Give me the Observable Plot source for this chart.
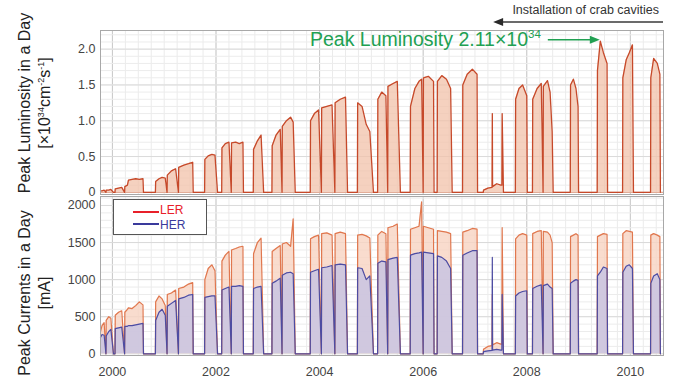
<!DOCTYPE html>
<html>
<head>
<meta charset="utf-8">
<script src="https://cdn.jsdelivr.net/npm/d3@7"></script>
<script src="https://cdn.jsdelivr.net/npm/@observablehq/plot@0.6"></script>
<style>
  html, body { margin: 0; padding: 0; background: #fff; }
  #wrap { position: relative; width: 674px; height: 385px; overflow: hidden; font-family: "Liberation Sans", Arial, sans-serif; }
  #wrap svg.plot { position: absolute; left: 0; }
  .ytitle { position: absolute; width: 220px; text-align: center; font-size: 16px; line-height: 20px; color: #222; transform: translate(-50%, -50%) rotate(-90deg); white-space: nowrap; }
  .ytitle sup { font-size: 9px; vertical-align: 6px; line-height: 0; }
  .note { position: absolute; white-space: nowrap; }
</style>
</head>
<body>
<div id="wrap"></div>
<script>
// ---- data (decimal year, peak luminosity [1e34], LER mA, HER mA) ----
const years = [
  1999.77,1999.80,1999.84,1999.875,1999.88,1999.93,1999.97,2000.02,
  2000.05,2000.055,2000.12,2000.18,2000.235,2000.24,2000.29,2000.31,2000.38,2000.45,2000.52,2000.59,2000.60,
  2000.83,2000.835,2000.90,2000.96,2001.02,2001.055,2001.06,2001.14,2001.22,2001.275,2001.28,2001.38,2001.47,2001.55,2001.56,
  2001.78,2001.785,2001.85,2001.92,2001.98,2002.03,
  2002.11,2002.115,2002.18,2002.25,2002.295,2002.30,2002.38,2002.45,2002.52,2002.53,
  2002.72,2002.725,2002.80,2002.87,2002.92,
  2003.08,2003.085,2003.16,2003.24,2003.275,2003.28,2003.36,2003.44,2003.49,2003.53,
  2003.82,2003.825,2003.90,2003.98,2004.035,2004.04,2004.14,2004.24,2004.295,2004.30,2004.40,2004.50,2004.54,
  2004.73,2004.735,2004.82,2004.90,2004.97,2005.04,
  2005.12,2005.125,2005.20,2005.28,2005.315,2005.32,2005.42,2005.50,2005.56,
  2005.75,2005.755,2005.84,2005.92,2005.97,2006.00,2006.005,2006.10,2006.20,2006.21,
  2006.27,2006.275,2006.36,2006.45,2006.53,2006.56,
  2006.76,2006.765,2006.85,2006.95,2007.04,2007.05,
  2007.16,2007.165,2007.25,2007.33,2007.335,2007.34,2007.42,2007.50,2007.52,2007.525,2007.55,
  2007.78,2007.785,2007.85,2007.92,2008.00,2008.01,
  2008.11,2008.115,2008.20,2008.28,2008.315,2008.32,2008.40,2008.45,2008.49,2008.51,
  2008.84,2008.845,2008.90,2008.95,2008.99,2009.00,
  2009.36,2009.365,2009.42,2009.48,2009.55,2009.56,
  2009.85,2009.855,2009.92,2009.98,2010.04,2010.06,
  2010.39,2010.395,2010.45,2010.52,2010.57,2010.58
];
const luminosity = [
  0.02,0.02,0.03,0,0.03,0.03,0.04,0,
  0,0.05,0.06,0.07,0,0.08,0.10,0.17,0.18,0.19,0.18,0.19,0,
  0,0.15,0.19,0.21,0.20,0,0.24,0.30,0.33,0,0.35,0.38,0.40,0.42,0,
  0,0.46,0.51,0.53,0.52,0,
  0,0.62,0.68,0.70,0,0.69,0.70,0.68,0.70,0,
  0,0.60,0.72,0.80,0,
  0,0.65,0.80,0.88,0,0.92,1.00,1.05,0.98,0,
  0,1.00,1.10,1.15,0,1.18,1.20,1.22,0,1.25,1.30,1.33,0,
  0,1.25,1.20,0.95,0.85,0,
  0,1.30,1.40,1.35,0,1.48,1.52,1.55,0,
  0,1.20,1.45,1.55,1.58,0,1.60,1.62,1.55,0,
  0,1.55,1.63,1.58,1.45,0,
  0,1.50,1.65,1.72,1.65,0,
  0,0.03,0.06,0.07,1.10,0.08,0.12,0.10,0.10,1.10,0,
  0,1.30,1.45,1.50,1.35,0,
  0,1.30,1.45,1.52,0,1.48,1.56,1.40,0.85,0,
  0,1.50,1.58,1.45,1.20,0,
  0,1.70,2.11,1.95,1.80,0,
  0,1.60,1.85,1.95,2.06,0,
  0,1.60,1.87,1.80,1.65,0
];
const lerCurrent = [
  300,380,420,0,450,500,480,0,
  0,520,560,580,0,560,600,620,610,650,700,660,0,
  0,700,780,740,650,0,800,820,860,0,880,900,940,960,0,
  0,1000,1150,1200,1120,0,
  0,1250,1330,1380,0,1400,1420,1440,1450,0,
  0,1350,1500,1560,0,
  0,1380,1420,1460,0,1480,1500,1450,1820,0,
  0,1550,1580,1600,0,1620,1630,1600,0,1620,1640,1620,0,
  0,1600,1610,1590,1560,0,
  0,1600,1650,1620,0,1700,1720,1750,0,
  0,1680,1700,1720,2050,0,1720,1700,1680,0,
  0,1660,1650,1640,1620,0,
  0,1640,1660,1690,1680,0,
  0,60,100,110,800,120,150,130,130,1700,0,
  0,1550,1600,1620,1600,0,
  0,1620,1650,1660,0,1650,1640,1600,1500,0,
  0,1580,1600,1620,1600,0,
  0,1580,1600,1620,1610,0,
  0,1620,1660,1650,1640,0,
  0,1600,1620,1600,1580,0
];
const herCurrent = [
  220,260,250,0,240,300,330,0,
  0,340,350,360,0,370,370,380,380,390,400,410,0,
  0,450,560,600,520,0,640,680,720,0,740,760,790,800,0,
  0,760,770,780,780,0,
  0,860,880,900,0,910,910,920,910,0,
  0,880,900,910,0,
  0,950,980,1020,0,1060,1090,1100,1080,0,
  0,1100,1120,1140,0,1160,1170,1190,0,1200,1210,1200,0,
  0,1160,1150,1000,1050,0,
  0,1220,1250,1240,0,1270,1290,1300,0,
  0,1330,1350,1360,1370,0,1370,1360,1350,0,
  0,1320,1300,1250,1150,0,
  0,1330,1360,1390,1390,0,
  0,30,40,45,1300,50,60,50,50,800,0,
  0,780,820,840,850,0,
  0,880,910,930,0,920,940,900,880,0,
  0,950,980,1000,990,0,
  0,1050,1100,1170,1150,0,
  0,1100,1180,1200,1150,0,
  0,950,1050,1080,1000,0
];
const yearTicks = [2000, 2002, 2004, 2006, 2008, 2010];
const lumTicks = [0, 0.5, 1.0, 1.5, 2.0];
const currentTicks = [0, 500, 1000, 1500, 2000];
const peakYear = 2009.42, peakValue = 2.11;
const crabStartYear = 2007.36;

(function draw() {
  const rows = years.map((t, i) => ({t, lum: luminosity[i], ler: lerCurrent[i], her: herCurrent[i]}));

  const xDomain = [1999.77, 2010.64];
  const font = {fontFamily: "'Liberation Sans', Arial, sans-serif", fontSize: "12.5px", color: "#444", background: "transparent", overflow: "visible"};
  const minorX = d3.range(2000, 2010.6, 0.25);
  const evenX = d3.range(2000, 2011, 2);

  const topPlot = Plot.plot({
    width: 674, height: 196,
    marginLeft: 100, marginRight: 11, marginTop: 30, marginBottom: 2,
    style: font,
    x: {domain: xDomain, axis: null},
    y: {domain: [-0.03, 2.26], ticks: lumTicks, tickFormat: d => d === 0 ? "0" : d.toFixed(1), tickSize: 0, tickPadding: 5, label: null},
    marks: [
      Plot.ruleX(minorX, {stroke: "#ebebeb"}),
      Plot.ruleX(evenX, {stroke: "#c9c9c9"}),
      Plot.ruleY(d3.range(0.1, 2.26, 0.1), {stroke: "#ececec"}),
      Plot.ruleY(lumTicks, {stroke: "#dadada"}),
      Plot.areaY(rows, {x: "t", y: "lum", fill: "#f2c1aa", fillOpacity: 0.75}),
      Plot.ruleY([0], {stroke: "#e3a48c"}),
      Plot.lineY(rows, {x: "t", y: "lum", stroke: "#c6492a", strokeWidth: 1.3}),
      Plot.frame({stroke: "#a8a8a8"})
    ]
  });
  topPlot.classList.add("plot");
  topPlot.style.top = "0px";

  const bottomPlot = Plot.plot({
    width: 674, height: 191,
    marginLeft: 100, marginRight: 11, marginTop: 2, marginBottom: 30,
    style: font,
    x: {domain: xDomain, ticks: yearTicks, tickFormat: d => String(d), tickSize: 0, tickPadding: 12, label: null},
    y: {domain: [-23, 2121], ticks: currentTicks, tickSize: 0, tickPadding: 5, label: null, tickFormat: d => String(d)},
    marks: [
      Plot.ruleX(minorX, {stroke: "#ebebeb"}),
      Plot.ruleX(evenX, {stroke: "#c9c9c9"}),
      Plot.ruleY(d3.range(100, 2121, 100), {stroke: "#ececec"}),
      Plot.ruleY(currentTicks, {stroke: "#dadada"}),
      Plot.areaY(rows, {x: "t", y: "ler", fill: "#f7d3c2", fillOpacity: 0.8}),
      Plot.areaY(rows, {x: "t", y: "her", fill: "#c6c3e4", fillOpacity: 0.8}),
      Plot.lineY(rows, {x: "t", y: "ler", stroke: "#e0774e", strokeWidth: 1.2}),
      Plot.lineY(rows, {x: "t", y: "her", stroke: "#4d4ca2", strokeWidth: 1.2}),
      Plot.frame({stroke: "#a8a8a8"})
    ]
  });
  bottomPlot.classList.add("plot");
  bottomPlot.style.top = "194px";

  const wrap = document.getElementById("wrap");
  wrap.appendChild(topPlot);
  wrap.appendChild(bottomPlot);

  function addTitle(html, cx, cy) {
    const d = document.createElement("div");
    d.className = "ytitle";
    d.innerHTML = html;
    d.style.left = cx + "px";
    d.style.top = cy + "px";
    wrap.appendChild(d);
  }
  addTitle("Peak Luminosity in a Day<br>[×10<sup>34</sup>cm<sup>-2</sup>s<sup>-1</sup>]", 35, 103);
  addTitle("Peak Currents in a Day<br>[mA]", 35, 293);

  const xs = topPlot.scale("x"), ys = topPlot.scale("y");
  const px = v => xs.apply(v), py = v => ys.apply(v);
  const frameRight = px(xDomain[1]);
  const frameTop = py(2.26);

  const ns = "http://www.w3.org/2000/svg";
  const ov = document.createElementNS(ns, "svg");
  ov.setAttribute("width", 674); ov.setAttribute("height", 385);
  ov.style.position = "absolute"; ov.style.left = "0"; ov.style.top = "0"; ov.style.pointerEvents = "none";
  function el(tag, attrs) { const e = document.createElementNS(ns, tag); for (const k in attrs) e.setAttribute(k, attrs[k]); ov.appendChild(e); return e; }

  const ca = px(crabStartYear), cy = frameTop - 8;
  el("line", {x1: ca + 8, y1: cy, x2: frameRight, y2: cy, stroke: "#3a3a3a", "stroke-width": 1.6});
  el("path", {d: `M${ca},${cy} L${ca + 10},${cy - 4} L${ca + 10},${cy + 4} Z`, fill: "#2a2a2a"});

  const gx = px(peakYear), gy = py(peakValue) - 1;
  el("line", {x1: gx - 52, y1: gy, x2: gx - 8, y2: gy, stroke: "#21a052", "stroke-width": 1.6});
  el("path", {d: `M${gx},${gy} L${gx - 10},${gy - 4} L${gx - 10},${gy + 4} Z`, fill: "#21a052"});
  wrap.appendChild(ov);

  const crab = document.createElement("div");
  crab.className = "note";
  crab.textContent = "Installation of crab cavities";
  crab.style.cssText += `font-size:12.5px;color:#333;right:${674 - frameRight + 4}px;top:${cy - 19}px;line-height:14px;`;
  wrap.appendChild(crab);

  const peak = document.createElement("div");
  peak.className = "note";
  peak.innerHTML = 'Peak Luminosity 2.11×10<sup style="font-size:11.5px;vertical-align:8px;line-height:0">34</sup>';
  peak.style.cssText += `font-size:19.5px;color:#21a052;right:${674 - (gx - 59)}px;top:${gy - 12}px;line-height:22px;`;
  wrap.appendChild(peak);

  const lg = document.createElement("div");
  lg.style.cssText = "position:absolute;left:113px;top:199px;width:92px;height:34px;border:1px solid #555;background:#fff;font-size:12px;";
  lg.innerHTML = `
    <div style="position:absolute;left:19px;top:11px;width:26px;height:2px;background:#e8202a"></div>
    <div style="position:absolute;left:46px;top:3px;color:#e8202a;line-height:14px">LER</div>
    <div style="position:absolute;left:19px;top:23px;width:26px;height:2px;background:#3a3a9c"></div>
    <div style="position:absolute;left:46px;top:18px;color:#3a3a9c;line-height:14px">HER</div>`;
  wrap.appendChild(lg);
})();
</script>
</body>
</html>
